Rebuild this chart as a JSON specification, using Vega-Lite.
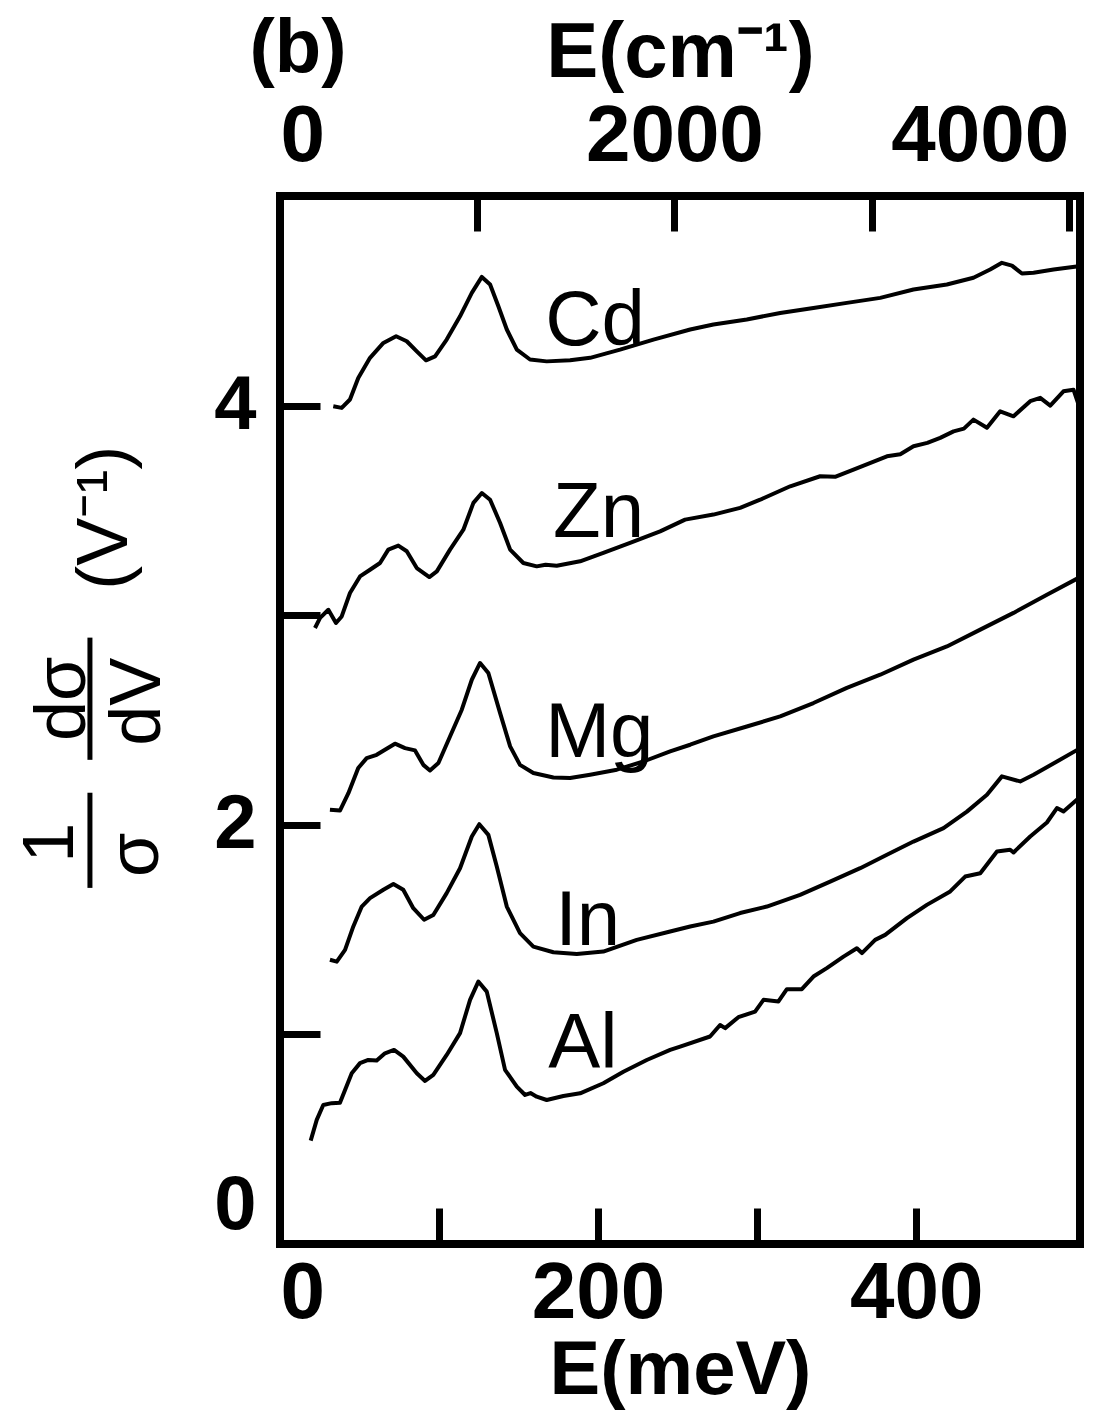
{
  "$schema": "https://vega.github.io/schema/vega-lite/v6.json",
  "width": 800,
  "height": 1048,
  "autosize": {"type": "none"},
  "padding": {"left": 280, "top": 196, "right": 37, "bottom": 174},
  "background": "white",
  "config": {
    "font": "Liberation Sans",
    "view": {"stroke": "black", "strokeWidth": 8},
    "axis": {"labelFont": "Liberation Sans", "titleFont": "Liberation Sans", "labelColor": "black", "titleColor": "black", "tickColor": "black", "domain": false, "grid": false}
  },
  "datasets": {
    "curves": [
      {"metal":"Cd","E":33.5,"val":3.997},{"metal":"Cd","E":38.8,"val":3.989},{"metal":"Cd","E":44.0,"val":4.029},{"metal":"Cd","E":49.2,"val":4.132},{"metal":"Cd","E":56.6,"val":4.228},{"metal":"Cd","E":65.0,"val":4.299},{"metal":"Cd","E":73.0,"val":4.331},{"metal":"Cd","E":79.7,"val":4.307},{"metal":"Cd","E":86.0,"val":4.259},{"metal":"Cd","E":91.8,"val":4.216},{"metal":"Cd","E":97.5,"val":4.235},{"metal":"Cd","E":104.8,"val":4.315},{"metal":"Cd","E":113.2,"val":4.426},{"metal":"Cd","E":120.6,"val":4.538},{"metal":"Cd","E":126.9,"val":4.614},{"metal":"Cd","E":132.1,"val":4.578},{"metal":"Cd","E":137.3,"val":4.474},{"metal":"Cd","E":142.6,"val":4.363},{"metal":"Cd","E":148.9,"val":4.267},{"metal":"Cd","E":157.2,"val":4.220},{"metal":"Cd","E":167.7,"val":4.211},{"metal":"Cd","E":182.4,"val":4.216},{"metal":"Cd","E":195.0,"val":4.228},{"metal":"Cd","E":213.8,"val":4.267},{"metal":"Cd","E":234.8,"val":4.315},{"metal":"Cd","E":257.9,"val":4.363},{"metal":"Cd","E":272.5,"val":4.387},{"metal":"Cd","E":293.5,"val":4.411},{"metal":"Cd","E":314.5,"val":4.442},{"metal":"Cd","E":335.4,"val":4.466},{"metal":"Cd","E":356.4,"val":4.490},{"metal":"Cd","E":377.4,"val":4.514},{"metal":"Cd","E":398.3,"val":4.554},{"metal":"Cd","E":419.3,"val":4.578},{"metal":"Cd","E":436.0,"val":4.610},{"metal":"Cd","E":446.5,"val":4.649},{"metal":"Cd","E":453.9,"val":4.681},{"metal":"Cd","E":460.2,"val":4.668},{"metal":"Cd","E":466.5,"val":4.630},{"metal":"Cd","E":473.8,"val":4.634},{"metal":"Cd","E":486.4,"val":4.649},{"metal":"Cd","E":502.1,"val":4.665},
      {"metal":"Zn","E":22.0,"val":2.939},{"metal":"Zn","E":25.2,"val":2.987},{"metal":"Zn","E":30.4,"val":3.026},{"metal":"Zn","E":35.2,"val":2.963},{"metal":"Zn","E":38.8,"val":2.994},{"metal":"Zn","E":44.0,"val":3.106},{"metal":"Zn","E":50.3,"val":3.185},{"metal":"Zn","E":56.6,"val":3.217},{"metal":"Zn","E":62.9,"val":3.249},{"metal":"Zn","E":68.1,"val":3.313},{"metal":"Zn","E":74.4,"val":3.332},{"metal":"Zn","E":79.7,"val":3.305},{"metal":"Zn","E":86.0,"val":3.225},{"metal":"Zn","E":93.9,"val":3.182},{"metal":"Zn","E":98.6,"val":3.209},{"metal":"Zn","E":106.9,"val":3.313},{"metal":"Zn","E":115.3,"val":3.408},{"metal":"Zn","E":121.6,"val":3.536},{"metal":"Zn","E":126.9,"val":3.583},{"metal":"Zn","E":132.1,"val":3.551},{"metal":"Zn","E":138.4,"val":3.440},{"metal":"Zn","E":144.7,"val":3.313},{"metal":"Zn","E":153.0,"val":3.249},{"metal":"Zn","E":161.4,"val":3.233},{"metal":"Zn","E":167.0,"val":3.241},{"metal":"Zn","E":174.0,"val":3.236},{"metal":"Zn","E":188.7,"val":3.257},{"metal":"Zn","E":203.3,"val":3.297},{"metal":"Zn","E":220.1,"val":3.345},{"metal":"Zn","E":239.0,"val":3.400},{"metal":"Zn","E":254.7,"val":3.456},{"metal":"Zn","E":272.5,"val":3.480},{"metal":"Zn","E":289.3,"val":3.512},{"metal":"Zn","E":301.9,"val":3.551},{"metal":"Zn","E":320.8,"val":3.615},{"metal":"Zn","E":339.6,"val":3.663},{"metal":"Zn","E":349.0,"val":3.660},{"metal":"Zn","E":360.6,"val":3.695},{"metal":"Zn","E":381.6,"val":3.758},{"metal":"Zn","E":390.0,"val":3.768},{"metal":"Zn","E":398.3,"val":3.806},{"metal":"Zn","E":407.0,"val":3.822},{"metal":"Zn","E":415.1,"val":3.846},{"metal":"Zn","E":423.5,"val":3.877},{"metal":"Zn","E":430.0,"val":3.890},{"metal":"Zn","E":436.0,"val":3.933},{"metal":"Zn","E":444.5,"val":3.894},{"metal":"Zn","E":452.8,"val":3.973},{"metal":"Zn","E":461.2,"val":3.949},{"metal":"Zn","E":471.7,"val":4.021},{"metal":"Zn","E":478.0,"val":4.037},{"metal":"Zn","E":484.3,"val":4.000},{"metal":"Zn","E":492.6,"val":4.068},{"metal":"Zn","E":498.9,"val":4.076},{"metal":"Zn","E":502.1,"val":4.005},
      {"metal":"Mg","E":31.4,"val":2.072},{"metal":"Mg","E":37.7,"val":2.068},{"metal":"Mg","E":43.0,"val":2.151},{"metal":"Mg","E":49.2,"val":2.271},{"metal":"Mg","E":54.5,"val":2.318},{"metal":"Mg","E":60.8,"val":2.334},{"metal":"Mg","E":66.0,"val":2.358},{"metal":"Mg","E":72.3,"val":2.387},{"metal":"Mg","E":78.6,"val":2.366},{"metal":"Mg","E":84.9,"val":2.355},{"metal":"Mg","E":90.1,"val":2.286},{"metal":"Mg","E":94.3,"val":2.259},{"metal":"Mg","E":99.6,"val":2.295},{"metal":"Mg","E":106.9,"val":2.421},{"metal":"Mg","E":114.3,"val":2.549},{"metal":"Mg","E":120.6,"val":2.692},{"metal":"Mg","E":125.8,"val":2.772},{"metal":"Mg","E":131.0,"val":2.724},{"metal":"Mg","E":138.4,"val":2.533},{"metal":"Mg","E":144.7,"val":2.374},{"metal":"Mg","E":150.9,"val":2.286},{"metal":"Mg","E":159.3,"val":2.247},{"metal":"Mg","E":171.9,"val":2.226},{"metal":"Mg","E":182.4,"val":2.223},{"metal":"Mg","E":195.0,"val":2.239},{"metal":"Mg","E":211.8,"val":2.263},{"metal":"Mg","E":228.5,"val":2.302},{"metal":"Mg","E":245.3,"val":2.350},{"metal":"Mg","E":257.9,"val":2.382},{"metal":"Mg","E":272.5,"val":2.422},{"metal":"Mg","E":293.5,"val":2.469},{"metal":"Mg","E":314.5,"val":2.517},{"metal":"Mg","E":335.4,"val":2.581},{"metal":"Mg","E":356.4,"val":2.653},{"metal":"Mg","E":377.4,"val":2.716},{"metal":"Mg","E":398.3,"val":2.788},{"metal":"Mg","E":419.3,"val":2.851},{"metal":"Mg","E":440.3,"val":2.931},{"metal":"Mg","E":461.2,"val":3.011},{"metal":"Mg","E":482.2,"val":3.098},{"metal":"Mg","E":502.1,"val":3.178},
      {"metal":"In","E":31.4,"val":1.356},{"metal":"In","E":35.7,"val":1.347},{"metal":"In","E":40.9,"val":1.403},{"metal":"In","E":46.1,"val":1.515},{"metal":"In","E":51.4,"val":1.610},{"metal":"In","E":56.6,"val":1.650},{"metal":"In","E":65.0,"val":1.690},{"metal":"In","E":71.3,"val":1.718},{"metal":"In","E":77.5,"val":1.690},{"metal":"In","E":83.8,"val":1.602},{"metal":"In","E":90.6,"val":1.547},{"metal":"In","E":96.4,"val":1.570},{"metal":"In","E":104.8,"val":1.674},{"metal":"In","E":113.2,"val":1.793},{"metal":"In","E":120.6,"val":1.944},{"metal":"In","E":125.3,"val":2.003},{"metal":"In","E":131.0,"val":1.952},{"metal":"In","E":136.3,"val":1.801},{"metal":"In","E":142.6,"val":1.610},{"metal":"In","E":150.9,"val":1.483},{"metal":"In","E":159.3,"val":1.419},{"metal":"In","E":171.9,"val":1.392},{"metal":"In","E":186.6,"val":1.384},{"metal":"In","E":203.3,"val":1.395},{"metal":"In","E":224.3,"val":1.451},{"metal":"In","E":245.3,"val":1.491},{"metal":"In","E":257.9,"val":1.515},{"metal":"In","E":272.5,"val":1.538},{"metal":"In","E":289.3,"val":1.579},{"metal":"In","E":306.1,"val":1.610},{"metal":"In","E":327.0,"val":1.666},{"metal":"In","E":345.9,"val":1.729},{"metal":"In","E":364.8,"val":1.793},{"metal":"In","E":381.6,"val":1.857},{"metal":"In","E":398.3,"val":1.920},{"metal":"In","E":417.2,"val":1.984},{"metal":"In","E":431.9,"val":2.063},{"metal":"In","E":444.5,"val":2.143},{"metal":"In","E":453.9,"val":2.231},{"metal":"In","E":465.4,"val":2.207},{"metal":"In","E":473.8,"val":2.239},{"metal":"In","E":488.5,"val":2.302},{"metal":"In","E":502.1,"val":2.361},
      {"metal":"Al","E":19.3,"val":0.493},{"metal":"Al","E":23.1,"val":0.592},{"metal":"Al","E":27.2,"val":0.663},{"metal":"Al","E":32.5,"val":0.672},{"metal":"Al","E":37.7,"val":0.674},{"metal":"Al","E":40.9,"val":0.735},{"metal":"Al","E":45.1,"val":0.815},{"metal":"Al","E":50.3,"val":0.863},{"metal":"Al","E":55.5,"val":0.878},{"metal":"Al","E":60.8,"val":0.875},{"metal":"Al","E":66.0,"val":0.910},{"metal":"Al","E":71.7,"val":0.926},{"metal":"Al","E":77.5,"val":0.894},{"metal":"Al","E":86.0,"val":0.815},{"metal":"Al","E":91.2,"val":0.778},{"metal":"Al","E":96.4,"val":0.807},{"metal":"Al","E":104.8,"val":0.902},{"metal":"Al","E":113.2,"val":1.006},{"metal":"Al","E":119.5,"val":1.165},{"metal":"Al","E":124.7,"val":1.252},{"metal":"Al","E":130.0,"val":1.204},{"metal":"Al","E":136.3,"val":1.006},{"metal":"Al","E":141.5,"val":0.831},{"metal":"Al","E":148.9,"val":0.751},{"metal":"Al","E":154.1,"val":0.711},{"metal":"Al","E":157.5,"val":0.720},{"metal":"Al","E":161.4,"val":0.703},{"metal":"Al","E":167.7,"val":0.687},{"metal":"Al","E":178.2,"val":0.706},{"metal":"Al","E":188.7,"val":0.719},{"metal":"Al","E":203.3,"val":0.767},{"metal":"Al","E":215.9,"val":0.822},{"metal":"Al","E":230.6,"val":0.878},{"metal":"Al","E":245.3,"val":0.926},{"metal":"Al","E":251.6,"val":0.942},{"metal":"Al","E":270.4,"val":0.990},{"metal":"Al","E":276.7,"val":1.045},{"metal":"Al","E":279.9,"val":1.030},{"metal":"Al","E":288.2,"val":1.082},{"metal":"Al","E":298.7,"val":1.109},{"metal":"Al","E":304.0,"val":1.165},{"metal":"Al","E":313.4,"val":1.157},{"metal":"Al","E":318.7,"val":1.216},{"metal":"Al","E":328.1,"val":1.216},{"metal":"Al","E":335.4,"val":1.276},{"metal":"Al","E":343.8,"val":1.316},{"metal":"Al","E":354.3,"val":1.371},{"metal":"Al","E":362.7,"val":1.411},{"metal":"Al","E":365.9,"val":1.388},{"metal":"Al","E":374.2,"val":1.451},{"metal":"Al","E":380.5,"val":1.475},{"metal":"Al","E":394.2,"val":1.555},{"metal":"Al","E":406.7,"val":1.618},{"metal":"Al","E":421.4,"val":1.682},{"metal":"Al","E":430.8,"val":1.753},{"metal":"Al","E":440.3,"val":1.769},{"metal":"Al","E":450.8,"val":1.873},{"metal":"Al","E":459.1,"val":1.881},{"metal":"Al","E":461.2,"val":1.868},{"metal":"Al","E":471.7,"val":1.944},{"metal":"Al","E":482.2,"val":2.011},{"metal":"Al","E":488.5,"val":2.080},{"metal":"Al","E":492.6,"val":2.064},{"metal":"Al","E":502.1,"val":2.127}
    ],
    "labels": [
      {"metal":"Cd","E":166.7,"val":4.291},
      {"metal":"Zn","E":171.7,"val":3.375},
      {"metal":"Mg","E":166.7,"val":2.325},
      {"metal":"In","E":173.0,"val":1.427},
      {"metal":"Al","E":168.6,"val":0.840}
    ]
  },
  "layer": [
    {
      "layer": [
        {
          "data": {"name": "curves"},
          "mark": {"type": "line", "color": "black", "strokeWidth": 4, "strokeJoin": "round"},
          "encoding": {
            "x": {"field": "E", "type": "quantitative", "scale": {"domain": [0, 503], "nice": false, "zero": false},
              "axis": {"orient": "bottom", "values": [0, 100, 200, 300, 400], "format": "d", "labelExpr": "datum.value % 200 === 0 ? datum.label : ''", "tickSize": -36, "tickWidth": 7, "labelFontSize": 80, "labelFontWeight": "bold", "labelPadding": 46, "labelFlush": true, "title": "E(meV)", "titleFontSize": 76, "titleFontWeight": "bold", "titlePadding": 0}},
            "y": {"field": "val", "type": "quantitative", "scale": {"domain": [0, 5], "nice": false, "zero": false},
              "axis": {"values": [0, 1, 2, 3, 4], "format": "d", "labelExpr": "datum.value % 2 === 0 ? datum.label : ''", "tickSize": -40, "tickWidth": 7, "labelFontSize": 76, "labelFontWeight": "bold", "labelPadding": 64, "labelFlush": true, "title": null}},
            "detail": {"field": "metal"}
          }
        },
        {
          "data": {"name": "labels"},
          "mark": {"type": "text", "fontSize": 78, "font": "Liberation Sans", "align": "left", "baseline": "alphabetic", "color": "black"},
          "encoding": {
            "x": {"field": "E", "type": "quantitative"},
            "y": {"field": "val", "type": "quantitative"},
            "text": {"field": "metal"}
          }
        },
        {
          "data": {"values": [{}]},
          "mark": {"type": "text", "text": "(b)", "fontSize": 76, "fontWeight": "bold", "font": "Liberation Sans", "align": "center", "baseline": "middle", "color": "black"},
          "encoding": {"x": {"datum": 11.3}, "y": {"datum": 5.70}}
        },
        {
          "data": {"values": [{}]},
          "mark": {"type": "text", "text": "1", "angle": 270, "fontSize": 72, "font": "Liberation Sans", "align": "center", "baseline": "alphabetic", "color": "black"},
          "encoding": {"x": {"datum": -130.2}, "y": {"datum": 1.914}}
        },
        {
          "data": {"values": [{}]},
          "mark": {"type": "text", "text": "σ", "angle": 270, "fontSize": 72, "font": "Liberation Sans", "align": "center", "baseline": "alphabetic", "color": "black"},
          "encoding": {"x": {"datum": -76.7}, "y": {"datum": 1.857}}
        },
        {
          "data": {"values": [{}]},
          "mark": {"type": "rule", "strokeWidth": 5, "color": "black"},
          "encoding": {"x": {"datum": -119.5}, "y": {"datum": 2.153}, "y2": {"datum": 1.699}}
        },
        {
          "data": {"values": [{}]},
          "mark": {"type": "text", "text": "dσ", "angle": 270, "fontSize": 72, "font": "Liberation Sans", "align": "center", "baseline": "alphabetic", "color": "black"},
          "encoding": {"x": {"datum": -122.6}, "y": {"datum": 2.601}}
        },
        {
          "data": {"values": [{}]},
          "mark": {"type": "text", "text": "dV", "angle": 270, "fontSize": 72, "font": "Liberation Sans", "align": "center", "baseline": "alphabetic", "color": "black"},
          "encoding": {"x": {"datum": -75.5}, "y": {"datum": 2.587}}
        },
        {
          "data": {"values": [{}]},
          "mark": {"type": "rule", "strokeWidth": 5, "color": "black"},
          "encoding": {"x": {"datum": -119.5}, "y": {"datum": 2.893}, "y2": {"datum": 2.310}}
        },
        {
          "data": {"values": [{}]},
          "mark": {"type": "text", "text": "(V⁻¹)", "angle": 270, "fontSize": 72, "font": "Liberation Sans", "align": "center", "baseline": "alphabetic", "color": "black"},
          "encoding": {"x": {"datum": -96.2}, "y": {"datum": 3.465}}
        }
      ]
    },
    {
      "data": {"values": [{"cm": 0}, {"cm": 4000}]},
      "mark": {"type": "point", "opacity": 0},
      "encoding": {
        "x": {"field": "cm", "type": "quantitative", "scale": {"domain": [0, 4057], "nice": false, "zero": false},
          "axis": {"orient": "top", "values": [0, 1000, 2000, 3000, 4000], "format": "d", "labelExpr": "datum.value % 2000 === 0 ? datum.label : ''", "tickSize": -35, "tickWidth": 7, "labelFontSize": 80, "labelFontWeight": "bold", "labelPadding": 54, "labelFlush": 12, "title": "E(cm⁻¹)", "titleFontSize": 78, "titleFontWeight": "bold", "titlePadding": 4}}
      }
    }
  ],
  "resolve": {"scale": {"x": "independent"}, "axis": {"x": "independent"}}
}
